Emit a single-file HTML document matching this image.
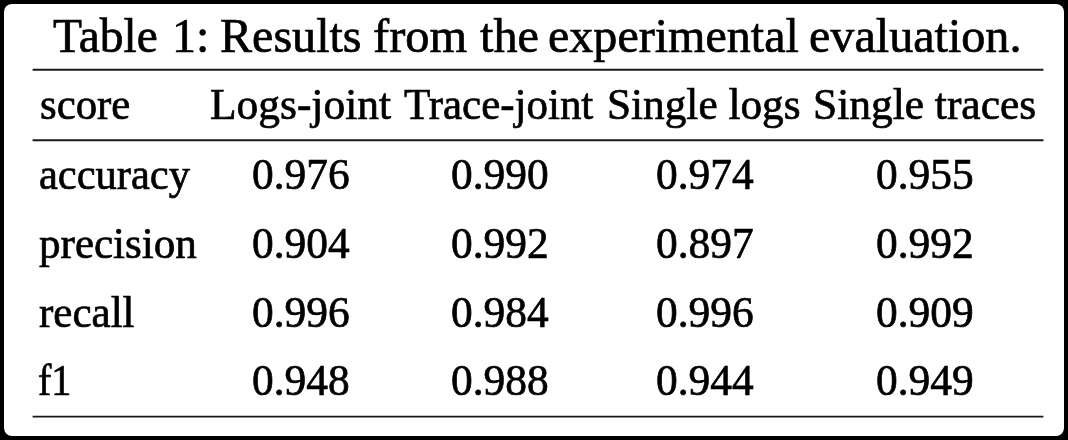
<!DOCTYPE html>
<html><head><meta charset="utf-8"><style>
html,body{margin:0;padding:0;}
body{width:1068px;height:440px;background:#000;position:relative;overflow:hidden;}
.card{position:absolute;left:4px;top:4px;width:1060px;height:432px;background:#fff;border-radius:8px;}
.t{position:absolute;font-family:"Liberation Serif",serif;color:#000;white-space:nowrap;line-height:normal;-webkit-text-stroke:0.7px #000;transform-origin:0 0;}
svg{position:absolute;left:0;top:0;}
</style></head><body>
<div class="card"></div>
<svg width="1068" height="440" viewBox="0 0 1068 440">
<g stroke="#181818" stroke-width="1.95">
<line x1="32.6" y1="69.8" x2="1043.4" y2="69.8"/>
<line x1="32.6" y1="140.2" x2="1043.4" y2="140.2"/>
<line x1="32.6" y1="416.6" x2="1043.4" y2="416.6"/>
</g></svg>
<div class="t" style="left:53.40px;top:7.00px;font-size:49px;transform:translateZ(0) scaleX(0.9682)">Table</div>
<div class="t" style="left:171.68px;top:7.00px;font-size:49px;transform:translateZ(0) scaleX(0.98)">1:</div>
<div class="t" style="left:219.82px;top:7.00px;font-size:49px;transform:translateZ(0) scaleX(0.981)">Results</div>
<div class="t" style="left:372.51px;top:7.00px;font-size:49px;transform:translateZ(0) scaleX(0.9883)">from</div>
<div class="t" style="left:479.90px;top:7.00px;font-size:49px;transform:translateZ(0) scaleX(0.9845)">the</div>
<div class="t" style="left:547.84px;top:7.00px;font-size:49px;transform:translateZ(0) scaleX(0.9806)">experimental</div>
<div class="t" style="left:809.04px;top:7.00px;font-size:49px;transform:translateZ(0) scaleX(0.982)">evaluation.</div>
<div class="t" style="left:39.73px;top:78.70px;font-size:44px;transform:translateZ(0) scaleX(0.9736)">score</div>
<div class="t" style="left:210.01px;top:78.70px;font-size:44px;transform:translateZ(0) scaleX(0.9874)">Logs-joint</div>
<div class="t" style="left:404.30px;top:78.70px;font-size:44px;transform:translateZ(0) scaleX(0.9763)">Trace-joint</div>
<div class="t" style="left:606.65px;top:78.70px;font-size:44px;transform:translateZ(0) scaleX(0.9834)">Single logs</div>
<div class="t" style="left:812.74px;top:78.70px;font-size:44px;transform:translateZ(0) scaleX(0.9869)">Single traces</div>
<div class="t" style="left:39.33px;top:148.90px;font-size:44px;transform:translateZ(0) scaleX(0.9658)">accuracy</div>
<div class="t" style="left:39.30px;top:217.80px;font-size:44px;transform:translateZ(0) scaleX(0.9789)">precision</div>
<div class="t" style="left:39.10px;top:287.00px;font-size:44px;transform:translateZ(0) scaleX(0.9784)">recall</div>
<div class="t" style="left:38.39px;top:355.00px;font-size:44px;transform:translateZ(0) scaleX(0.9118)">f1</div>
<div class="t" style="left:251.53px;top:147.90px;font-size:45px;transform:translateZ(0) scaleX(0.965)">0.976</div>
<div class="t" style="left:450.64px;top:147.90px;font-size:45px;transform:translateZ(0) scaleX(0.965)">0.990</div>
<div class="t" style="left:655.63px;top:147.90px;font-size:45px;transform:translateZ(0) scaleX(0.965)">0.974</div>
<div class="t" style="left:876.43px;top:147.90px;font-size:45px;transform:translateZ(0) scaleX(0.965)">0.955</div>
<div class="t" style="left:251.53px;top:216.80px;font-size:45px;transform:translateZ(0) scaleX(0.965)">0.904</div>
<div class="t" style="left:450.64px;top:216.80px;font-size:45px;transform:translateZ(0) scaleX(0.965)">0.992</div>
<div class="t" style="left:655.63px;top:216.80px;font-size:45px;transform:translateZ(0) scaleX(0.965)">0.897</div>
<div class="t" style="left:876.43px;top:216.80px;font-size:45px;transform:translateZ(0) scaleX(0.965)">0.992</div>
<div class="t" style="left:251.53px;top:286.00px;font-size:45px;transform:translateZ(0) scaleX(0.965)">0.996</div>
<div class="t" style="left:450.64px;top:286.00px;font-size:45px;transform:translateZ(0) scaleX(0.965)">0.984</div>
<div class="t" style="left:655.63px;top:286.00px;font-size:45px;transform:translateZ(0) scaleX(0.965)">0.996</div>
<div class="t" style="left:876.43px;top:286.00px;font-size:45px;transform:translateZ(0) scaleX(0.965)">0.909</div>
<div class="t" style="left:251.53px;top:354.00px;font-size:45px;transform:translateZ(0) scaleX(0.965)">0.948</div>
<div class="t" style="left:450.64px;top:354.00px;font-size:45px;transform:translateZ(0) scaleX(0.965)">0.988</div>
<div class="t" style="left:655.63px;top:354.00px;font-size:45px;transform:translateZ(0) scaleX(0.965)">0.944</div>
<div class="t" style="left:876.43px;top:354.00px;font-size:45px;transform:translateZ(0) scaleX(0.965)">0.949</div>
</body></html>
